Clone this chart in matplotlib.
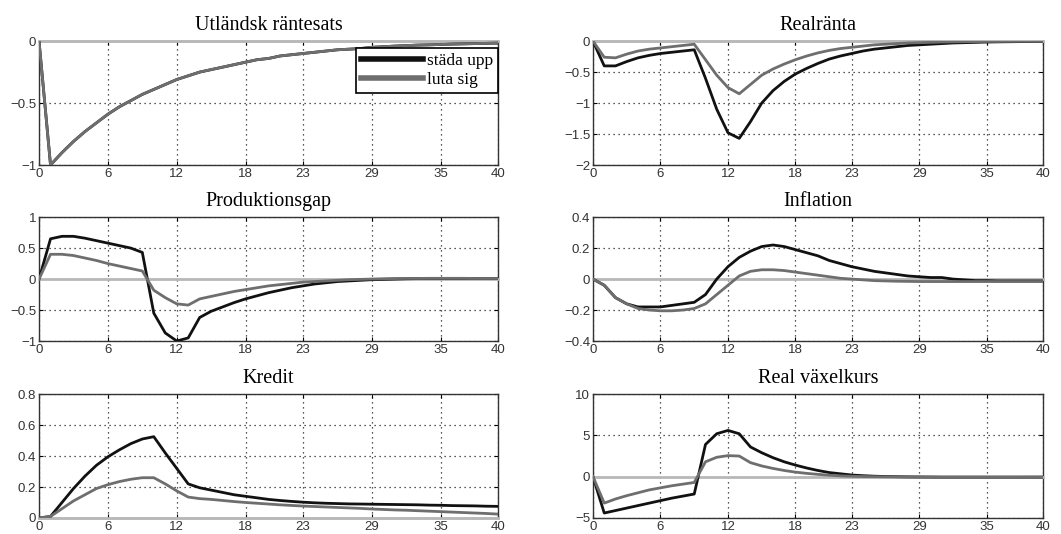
import matplotlib
matplotlib.use('Agg')
import matplotlib.pyplot as plt

periods = list(range(41))
xticks = [0, 6, 12, 18, 23, 29, 35, 40]
labels = ['städa upp', 'luta sig']

# Utländsk räntesats (same shock in both scenarios)
foreign_rate = [0, -1.0, -0.90, -0.81, -0.73, -0.66, -0.59, -0.53, -0.48, -0.43,
                -0.39, -0.35, -0.31, -0.28, -0.25, -0.23, -0.21, -0.19, -0.17, -0.15,
                -0.14, -0.12, -0.11, -0.10, -0.09, -0.08, -0.07, -0.065, -0.06, -0.05,
                -0.045, -0.04, -0.036, -0.032, -0.03, -0.027, -0.024, -0.022, -0.02, -0.018, -0.016]

# Realränta
real_rate_clean = [0, -0.40, -0.40, -0.33, -0.27, -0.23, -0.20, -0.18, -0.16, -0.14,
                   -0.60, -1.10, -1.48, -1.57, -1.30, -1.00, -0.80, -0.65, -0.53, -0.44,
                   -0.36, -0.29, -0.24, -0.20, -0.16, -0.13, -0.11, -0.09, -0.07, -0.06,
                   -0.05, -0.04, -0.03, -0.025, -0.02, -0.015, -0.012, -0.01, -0.008, -0.006, -0.005]
real_rate_lean = [0, -0.26, -0.27, -0.21, -0.16, -0.13, -0.11, -0.09, -0.07, -0.05,
                  -0.30, -0.55, -0.75, -0.85, -0.70, -0.55, -0.45, -0.37, -0.30, -0.24,
                  -0.19, -0.15, -0.12, -0.10, -0.08, -0.06, -0.05, -0.04, -0.03, -0.025,
                  -0.02, -0.015, -0.012, -0.01, -0.008, -0.006, -0.005, -0.004, -0.003, -0.002, -0.002]

# Produktionsgap
gap_clean = [0, 0.65, 0.69, 0.69, 0.66, 0.62, 0.58, 0.54, 0.50, 0.43,
             -0.55, -0.87, -1.00, -0.95, -0.62, -0.52, -0.45, -0.38, -0.32, -0.27,
             -0.22, -0.18, -0.14, -0.11, -0.08, -0.06, -0.04, -0.03, -0.02, -0.01,
             -0.005, 0, 0.005, 0.008, 0.01, 0.01, 0.01, 0.01, 0.01, 0.01, 0.01]
gap_lean = [0, 0.40, 0.40, 0.38, 0.34, 0.30, 0.25, 0.21, 0.17, 0.13,
            -0.18, -0.30, -0.40, -0.42, -0.32, -0.28, -0.24, -0.20, -0.17, -0.14,
            -0.11, -0.09, -0.07, -0.05, -0.04, -0.03, -0.02, -0.01, -0.005, 0,
            0.005, 0.008, 0.01, 0.01, 0.012, 0.012, 0.012, 0.012, 0.01, 0.01, 0.01]

# Inflation
infl_clean = [0, -0.04, -0.12, -0.16, -0.18, -0.18, -0.18, -0.17, -0.16, -0.15,
              -0.10, 0.00, 0.08, 0.14, 0.18, 0.21, 0.22, 0.21, 0.19, 0.17,
              0.15, 0.12, 0.10, 0.08, 0.065, 0.05, 0.04, 0.03, 0.02, 0.015,
              0.01, 0.01, 0.0, -0.005, -0.01, -0.01, -0.012, -0.012, -0.012, -0.012, -0.012]
infl_lean = [0, -0.04, -0.12, -0.16, -0.19, -0.20, -0.205, -0.205, -0.20, -0.19,
             -0.16, -0.10, -0.04, 0.02, 0.05, 0.06, 0.06, 0.055, 0.045, 0.035,
             0.025, 0.015, 0.005, 0.0, -0.005, -0.01, -0.012, -0.014, -0.015, -0.016,
             -0.016, -0.016, -0.016, -0.016, -0.016, -0.016, -0.016, -0.016, -0.016, -0.016, -0.016]

# Kredit
credit_clean = [0, 0.01, 0.10, 0.19, 0.27, 0.34, 0.395, 0.44, 0.48, 0.51,
                0.525, 0.42, 0.32, 0.22, 0.195, 0.18, 0.165, 0.15, 0.14, 0.13,
                0.12, 0.113, 0.107, 0.102, 0.098, 0.095, 0.093, 0.091, 0.09, 0.089,
                0.088, 0.087, 0.086, 0.085, 0.083, 0.082, 0.08, 0.079, 0.078, 0.076, 0.075]
credit_lean = [0, 0.01, 0.06, 0.11, 0.15, 0.19, 0.215, 0.235, 0.25, 0.26,
               0.26, 0.22, 0.175, 0.135, 0.125, 0.12, 0.113, 0.106, 0.10, 0.095,
               0.09, 0.085, 0.081, 0.077, 0.074, 0.071, 0.068, 0.065, 0.062, 0.058,
               0.055, 0.052, 0.05, 0.047, 0.044, 0.041, 0.038, 0.035, 0.032, 0.029, 0.025]

# Real växelkurs
fx_clean = [0, -4.4, -4.1, -3.8, -3.5, -3.2, -2.9, -2.6, -2.35, -2.1,
            3.9, 5.2, 5.6, 5.2, 3.6, 2.9, 2.3, 1.8, 1.4, 1.05,
            0.75, 0.5, 0.35, 0.2, 0.12, 0.06, 0.02, 0.0, -0.02, -0.03,
            -0.04, -0.05, -0.05, -0.05, -0.05, -0.05, -0.05, -0.05, -0.05, -0.05, -0.05]
fx_lean = [0, -3.2, -2.7, -2.3, -1.95, -1.6, -1.35, -1.1, -0.9, -0.7,
           1.8, 2.35, 2.55, 2.5, 1.7, 1.3, 1.0, 0.75, 0.55, 0.4,
           0.28, 0.18, 0.1, 0.05, 0.02, 0.0, -0.02, -0.03, -0.04, -0.05,
           -0.05, -0.06, -0.06, -0.06, -0.06, -0.06, -0.06, -0.06, -0.06, -0.05, -0.05]

panels = [
    ('Utländsk räntesats', foreign_rate, foreign_rate, (-1, 0), [-1, -0.5, 0], ['\u22121', '\u22120.5', '0']),
    ('Realränta', real_rate_clean, real_rate_lean, (-2, 0), [-2, -1.5, -1, -0.5, 0],
     ['\u22122', '\u22121.5', '\u22121', '\u22120.5', '0']),
    ('Produktionsgap', gap_clean, gap_lean, (-1, 1), [-1, -0.5, 0, 0.5, 1],
     ['\u22121', '\u22120.5', '0', '0.5', '1']),
    ('Inflation', infl_clean, infl_lean, (-0.4, 0.4), [-0.4, -0.2, 0, 0.2, 0.4],
     ['\u22120.4', '\u22120.2', '0', '0.2', '0.4']),
    ('Kredit', credit_clean, credit_lean, (0, 0.8), [0, 0.2, 0.4, 0.6, 0.8],
     ['0', '0.2', '0.4', '0.6', '0.8']),
    ('Real växelkurs', fx_clean, fx_lean, (-5, 10), [-5, 0, 5, 10], ['\u22125', '0', '5', '10']),
]

# axes rectangles in figure fractions
lefts = [0.0368, 0.5589]
widths = [0.4326, 0.4241]
bottoms = [0.691, 0.3614, 0.030]
height = 0.232

fig = plt.figure(figsize=(10.61, 5.34), dpi=100)
title_font = {'family': 'Liberation Serif', 'size': 14.5}

for i, (title, clean, lean, ylim, yt, ytl) in enumerate(panels):
    row, col = divmod(i, 2)
    ax = fig.add_axes([lefts[col], bottoms[row], widths[col], height])
    ax.axhline(0, color='#b8b8b8', lw=2, zorder=2.6, clip_on=False)
    l1, = ax.plot(periods, clean, color='#111111', lw=2.0, zorder=3)
    l2, = ax.plot(periods, lean, color='#6e6e6e', lw=2.0, zorder=3.1)
    ax.set_xlim(0, 40)
    ax.set_ylim(*ylim)
    ax.set_xticks(xticks)
    ax.set_yticks(yt)
    ax.set_yticklabels(ytl)
    ax.grid(True, color='#222222', linestyle=(0, (1, 3)), lw=0.9)
    ax.tick_params(direction='in', length=3, top=True, right=True,
                   labelsize=9.5, labelcolor='#333333', pad=2)
    for lab in ax.get_xticklabels() + ax.get_yticklabels():
        lab.set_family('Liberation Sans')
    for s in ax.spines.values():
        s.set_color('#333333')
        s.set_linewidth(1.0)
    ax.set_title(title, fontdict=title_font, pad=8)
    if i == 0:
        leg = ax.legend([l1, l2], labels, loc='upper right', bbox_to_anchor=(1.0, 0.945),
                        borderaxespad=0, fancybox=False, framealpha=1, edgecolor='black',
                        prop={'family': 'Liberation Serif', 'size': 12.5},
                        handlelength=3.6, handletextpad=0.2, labelspacing=0.15,
                        borderpad=0.3)
        leg.get_frame().set_linewidth(1.2)
        for h in leg.get_lines():
            h.set_linewidth(4)

fig.savefig('out.png', dpi=100)
